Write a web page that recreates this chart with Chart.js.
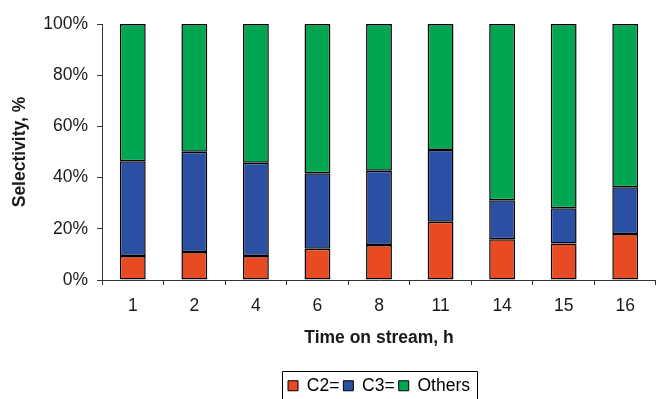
<!DOCTYPE html>
<html>
<head>
<meta charset="utf-8">
<script src="https://cdn.jsdelivr.net/npm/chart.js@4.4.1/dist/chart.umd.min.js"></script>
<style>
  html, body { margin: 0; padding: 0; background: #fff; }
  #wrap { width: 656px; height: 399px; position: relative; }
</style>
</head>
<body>
<div id="wrap"><canvas id="c" width="656" height="399"></canvas></div>
<script>
const categories = ['1', '2', '4', '6', '8', '11', '14', '15', '16'];
const seriesNames = ['C2=', 'C3=', 'Others'];
const c2Values = [9.4, 10.9, 9.4, 12.2, 13.7, 22.8, 15.9, 14.3, 18.0];
const c3Values = [37.0, 39.2, 36.4, 29.5, 29.0, 28.0, 15.3, 13.7, 18.2];
const othersValues = [53.6, 49.9, 54.2, 58.3, 57.3, 49.2, 68.8, 72.0, 63.8];
const yTicks = [0, 20, 40, 60, 80, 100];
const xTitle = 'Time on stream, h';
const yTitle = 'Selectivity, %';

const colors = ['#E84B23', '#2B4FA2', '#00A651'];
const FONT = "'Liberation Sans', Arial, Helvetica, sans-serif";
const TXT = '#1a1a1a';

const legendBorder = {
  id: 'legendBorder',
  afterDraw(chart) {
    const lg = chart.legend;
    if (!lg || !lg.legendHitBoxes || !lg.legendHitBoxes.length) return;
    const hb = lg.legendHitBoxes;
    let l = Infinity, r = -Infinity, t = Infinity;
    hb.forEach(b => { l = Math.min(l, b.left); r = Math.max(r, b.left + b.width); t = Math.min(t, b.top); });
    const ctx = chart.ctx;
    ctx.save();
    ctx.strokeStyle = '#000';
    ctx.lineWidth = 1;
    ctx.beginPath();
    const x0 = Math.round(l - 6) + 0.5, x1 = Math.round(r + 7) + 0.5, y0 = Math.round(t - 6) + 0.5;
    ctx.moveTo(x0, chart.height + 5);
    ctx.lineTo(x0, y0);
    ctx.lineTo(x1, y0);
    ctx.lineTo(x1, chart.height + 5);
    ctx.stroke();
    ctx.restore();
  }
};

const datasets = [c2Values, c3Values, othersValues].map((vals, i) => ({
  label: seriesNames[i],
  data: vals,
  backgroundColor: colors[i],
  borderColor: '#000',
  borderWidth: 1.5,
  borderSkipped: false,
  barPercentage: 0.42,
  categoryPercentage: 1.0
}));

new Chart(document.getElementById('c'), {
  type: 'bar',
  data: { labels: categories, datasets },
  plugins: [legendBorder],
  options: {
    responsive: false,
    animation: false,
    devicePixelRatio: 1,
    layout: { padding: { top: 24, right: 0, left: 0, bottom: -5.5 } },
    plugins: {
      tooltip: { enabled: false },
      legend: {
        position: 'bottom',
        fullSize: false,
        align: 'center',
        labels: {
          boxWidth: 10,
          boxHeight: 10,
          padding: 4,
          color: TXT,
          font: { family: FONT, size: 17.5 },
          generateLabels(chart) {
            return chart.data.datasets.map((ds, i) => ({
              text: ds.label,
              fillStyle: ds.backgroundColor,
              strokeStyle: '#000',
              lineWidth: 1,
              hidden: false,
              datasetIndex: i
            }));
          }
        }
      }
    },
    scales: {
      x: {
        stacked: true,
        afterFit(scale) { scale.height = 93; },
        grid: { display: true, drawOnChartArea: false, drawTicks: true, tickLength: 5, color: '#333', offset: true },
        border: { display: true, color: '#333', width: 1 },
        ticks: { color: TXT, font: { family: FONT, size: 17.5 }, padding: 11, maxRotation: 0 },
        title: { display: true, text: xTitle, color: TXT, font: { family: FONT, size: 17.5, weight: 'bold' }, padding: { top: 4, bottom: 24 } }
      },
      y: {
        stacked: true,
        min: 0,
        max: 100,
        afterFit(scale) { scale.width = 102; },
        afterBuildTicks(scale) { scale.ticks = yTicks.map(v => ({ value: v })); },
        grid: { display: true, drawOnChartArea: false, drawTicks: true, tickLength: 5, color: '#333' },
        border: { display: true, color: '#333', width: 1 },
        ticks: { color: TXT, font: { family: FONT, size: 17.5 }, padding: 9, callback: v => v + '%' },
        title: { display: true, text: yTitle, color: TXT, font: { family: FONT, size: 17.5, weight: 'bold' }, padding: { top: 10, bottom: 0 } }
      }
    }
  }
});
</script>
</body>
</html>
